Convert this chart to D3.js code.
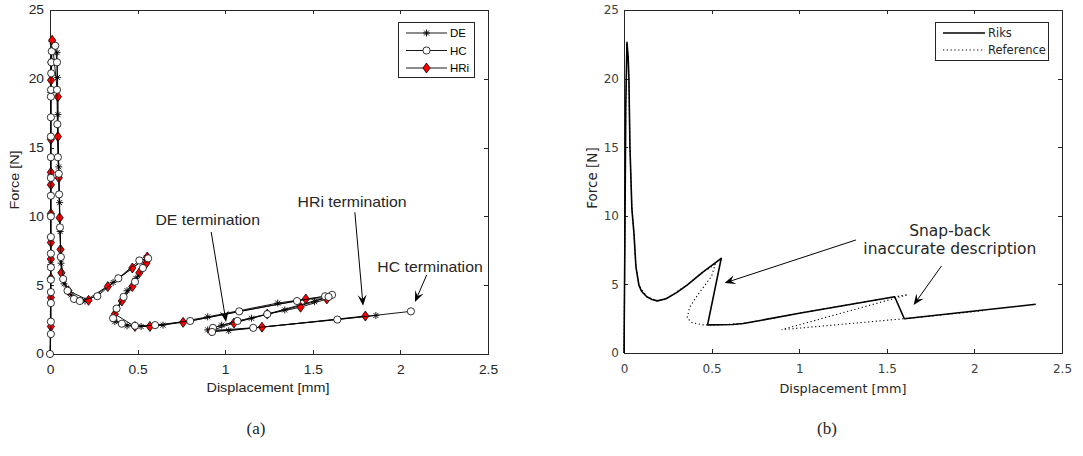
<!DOCTYPE html>
<html>
<head>
<meta charset="utf-8">
<title>Force vs displacement</title>
<script src="https://cdn.jsdelivr.net/npm/d3@7"></script>
<style>
  body { margin: 0; background: #fff; }
</style>
</head>
<body>
<svg id="fig" width="1083" height="456"></svg>
<script>
// points are [displacement mm, force N]
const seriesDE = [[0,0],[0.005,6.5],[0.005,13],[0.005,19],[0.012,22.7],[0.04,21.9],[0.043,20.1],[0.045,17.4],[0.05,13.6],[0.055,11.0],[0.058,8.9],[0.063,6.6],[0.08,5.1],[0.12,4.3],[0.2,3.85],[0.36,5.2],[0.55,7.0],[0.49,5.5],[0.44,4.6],[0.38,3.3],[0.37,2.35],[0.44,2.05],[0.52,2.0],[0.645,2.1],[0.9,2.7],[1.3,3.7],[1.6,4.25],[1.51,3.8],[1.34,3.2],[1.15,2.6],[0.98,2.1],[0.9,1.75],[1.02,1.7],[1.86,2.8]];
const seriesHC = [[0,0],[0.005,1.45],[0.005,2.35],[0.005,3.7],[0.005,4.5],[0.005,5.4],[0.005,6.3],[0.005,7.3],[0.005,8.5],[0.005,10.0],[0.005,11.5],[0.005,12.8],[0.005,14.3],[0.005,15.8],[0.005,17.2],[0.005,18.7],[0.006,19.2],[0.007,20.4],[0.008,21.2],[0.01,22.0],[0.03,22.4],[0.04,21.2],[0.04,19.2],[0.042,16.7],[0.045,14.3],[0.05,13.1],[0.052,11.6],[0.057,9.2],[0.062,7.05],[0.075,5.45],[0.1,4.6],[0.137,4.0],[0.17,3.85],[0.27,4.2],[0.39,5.5],[0.51,6.8],[0.56,6.95],[0.53,6.25],[0.485,5.25],[0.42,4.15],[0.38,3.3],[0.36,2.6],[0.41,2.2],[0.485,2.05],[0.6,2.1],[0.8,2.4],[1.08,3.1],[1.41,3.85],[1.57,4.2],[1.61,4.3],[1.59,4.15],[1.24,2.9],[1.07,2.4],[0.93,1.9],[0.925,1.6],[1.16,1.9],[1.64,2.5],[2.06,3.1]];
const seriesHRi = [[0.005,2.0],[0.005,4.1],[0.005,5.5],[0.005,6.9],[0.005,8.1],[0.005,10.2],[0.005,12.3],[0.005,13.2],[0.005,15.6],[0.006,19.9],[0.007,21.2],[0.012,22.8],[0.045,18.7],[0.045,15.8],[0.05,12.8],[0.055,9.9],[0.06,7.6],[0.065,5.9],[0.105,4.6],[0.22,3.9],[0.33,4.9],[0.47,6.25],[0.555,7.05],[0.55,6.6],[0.51,5.9],[0.47,4.9],[0.41,3.85],[0.37,2.9],[0.485,2.0],[0.57,2.0],[0.76,2.3],[1.46,4.0],[1.58,4.0],[1.43,3.4],[1.24,2.9],[1.05,2.25],[0.92,1.7],[1.21,1.95],[1.8,2.76]];

const riks = [[0,0],[0.005,8],[0.01,18],[0.017,22.65],[0.024,21.5],[0.028,20],[0.034,15],[0.045,10.5],[0.057,8.7],[0.068,6.3],[0.085,4.95],[0.1,4.5],[0.13,4.1],[0.16,3.9],[0.19,3.8],[0.24,3.95],[0.3,4.4],[0.36,4.95],[0.45,5.9],[0.555,6.9],[0.477,2.05],[0.62,2.08],[0.68,2.15],[0.77,2.35],[1.0,2.9],[1.545,4.1],[1.6,2.5],[2.35,3.55]];
const reference = [[0,0],[0.005,8],[0.01,18],[0.017,22.6],[0.024,21.5],[0.028,20],[0.034,15],[0.045,10.5],[0.057,8.7],[0.068,6.3],[0.085,4.95],[0.13,4.1],[0.19,3.8],[0.24,3.95],[0.36,4.95],[0.45,5.9],[0.52,6.45],[0.5,5.6],[0.43,4.4],[0.375,3.35],[0.36,2.55],[0.39,2.2],[0.45,2.05],[0.55,2.05],[0.68,2.15],[0.77,2.35],[1.0,2.9],[1.545,4.1],[1.62,4.25],[0.9,1.7],[1.6,2.5],[2.06,3.1]];

const xTicks = [0, 0.5, 1, 1.5, 2, 2.5];
const yTicks = [0, 5, 10, 15, 20, 25];
const legendA = ["DE", "HC", "HRi"];
const legendB = ["Riks", "Reference"];

const svg = d3.select("#fig");
const axisCol = "#262626";

// left panel (a)
const xa = d3.scaleLinear().domain([0, 2.5]).range([50, 488]);
const ya = d3.scaleLinear().domain([0, 25]).range([354, 10]);
// right panel (b)
const xb = d3.scaleLinear().domain([0, 2.5]).range([624, 1062]);
const yb = d3.scaleLinear().domain([0, 25]).range([353, 10]);

function stretchText(sel, sx) {
  sel.each(function () {
    const t = d3.select(this);
    const x = +t.attr("x") || 0;
    t.attr("x", x / sx).attr("transform", "scale(" + sx + ",1)");
  });
}

function drawAxes(x, y, font, size, color, sx, padY) {
  const g = svg.append("g");
  const fmt = d3.format("~g");
  g.append("g").attr("transform", "translate(0," + y(0) + ")")
    .call(d3.axisBottom(x).tickValues(xTicks).tickFormat(fmt).tickSizeInner(-4).tickSizeOuter(0).tickPadding(11));
  g.append("g").attr("transform", "translate(0," + y(25) + ")")
    .call(d3.axisTop(x).tickValues(xTicks).tickFormat("").tickSizeInner(-4).tickSizeOuter(0));
  g.append("g").attr("transform", "translate(" + x(0) + ",0)")
    .call(d3.axisLeft(y).tickValues(yTicks).tickFormat(fmt).tickSizeInner(-4).tickSizeOuter(0).tickPadding(padY));
  g.append("g").attr("transform", "translate(" + x(2.5) + ",0)")
    .call(d3.axisRight(y).tickValues(yTicks).tickFormat("").tickSizeInner(-4).tickSizeOuter(0));
  g.selectAll(".domain").attr("stroke", axisCol).attr("shape-rendering", "crispEdges");
  g.selectAll(".tick line").attr("stroke", axisCol).attr("shape-rendering", "crispEdges");
  g.selectAll("text").attr("font-family", font).attr("font-size", size).attr("fill", color);
  if (sx !== 1) stretchText(g.selectAll("text"), sx);
  return g;
}

function label(x, y, txt, font, size, sx, rot, anchor) {
  svg.append("text")
    .attr("transform", "translate(" + x + "," + y + ") rotate(" + (rot || 0) + ") scale(" + sx + ",1)")
    .attr("text-anchor", anchor || "middle")
    .attr("dominant-baseline", "central")
    .attr("font-family", font)
    .attr("font-size", size)
    .attr("fill", "#262626")
    .text(txt);
}

function arrow(x1, y1, x2, y2) {
  const ang = Math.atan2(y2 - y1, x2 - x1);
  const L = 11, W = 4.5;
  const g = svg.append("g");
  g.append("line").attr("x1", x1).attr("y1", y1)
    .attr("x2", x2 - Math.cos(ang) * L * 0.6).attr("y2", y2 - Math.sin(ang) * L * 0.6)
    .attr("stroke", "#000").attr("stroke-width", 1);
  g.append("path")
    .attr("d", "M0,0L" + (-L) + "," + W + "L" + (-L * 0.6) + ",0L" + (-L) + "," + (-W) + "Z")
    .attr("transform", "translate(" + x2 + "," + y2 + ") rotate(" + (ang * 180 / Math.PI) + ")")
    .attr("fill", "#000");
}

const starPath = "M-3.5,0H3.5M0,-3.5V3.5M-2.5,-2.5L2.5,2.5M-2.5,2.5L2.5,-2.5";
const diamondPath = "M0,-5L3.6,0L0,5L-3.6,0Z";

function drawMarker(g, kind, cx, cy) {
  if (kind === "DE") {
    g.append("path").attr("d", starPath).attr("transform", "translate(" + cx + "," + cy + ")")
      .attr("stroke", "#000").attr("stroke-width", 0.9).attr("fill", "none");
  } else if (kind === "HC") {
    g.append("circle").attr("cx", cx).attr("cy", cy).attr("r", 3.6)
      .attr("fill", "#fff").attr("stroke", "#000").attr("stroke-width", 0.8);
  } else {
    g.append("path").attr("d", diamondPath).attr("transform", "translate(" + cx + "," + cy + ")")
      .attr("fill", "#ff0000").attr("stroke", "#000").attr("stroke-width", 0.8);
  }
}

// ---- panel (a)
const fontA = "'Liberation Sans', Arial, sans-serif";
drawAxes(xa, ya, fontA, 12, "#262626", 1.15, 6);

const lineA = d3.line().x(d => xa(d[0])).y(d => ya(d[1]));
const plotA = svg.append("g");
[["DE", seriesDE], ["HRi", seriesHRi], ["HC", seriesHC]].forEach(([k, data]) => {
  plotA.append("path").datum(data).attr("d", lineA)
    .attr("fill", "none").attr("stroke", "#000").attr("stroke-width", 0.9);
  const mg = plotA.append("g");
  data.forEach(d => drawMarker(mg, k, xa(d[0]), ya(d[1])));
});

label(268, 388, "Displacement [mm]", fontA, 12.5, 1.15);
label(15, 180, "Force [N]", fontA, 12.5, 1.15, -90);

// annotations (a)
label(xa(0.9), ya(9.74), "DE termination", fontA, 14, 1.13);
label(xa(1.724), ya(11.05), "HRi termination", fontA, 14, 1.13);
label(xa(2.169), ya(6.32), "HC termination", fontA, 14, 1.13);
arrow(xa(0.92), ya(8.87), xa(1.005), ya(2.33));
arrow(xa(1.74), ya(10.3), xa(1.787), ya(3.5));
arrow(xa(2.15), ya(5.74), xa(2.083), ya(3.78));

// legend (a)
const legA = svg.append("g").attr("transform", "translate(" + (xa(2.5) - 90) + "," + (ya(25) + 12) + ")");
legA.append("rect").attr("x", 0.5).attr("y", 0.5).attr("width", 76).attr("height", 55)
  .attr("fill", "#fff").attr("stroke", axisCol).attr("stroke-width", 1);
legendA.forEach((name, i) => {
  const cy = 11 + i * 17.5;
  legA.append("line").attr("x1", 8).attr("x2", 49).attr("y1", cy).attr("y2", cy)
    .attr("stroke", "#000").attr("stroke-width", 0.9);
  drawMarker(legA, name, 28.5, cy);
  legA.append("text").attr("x", 52).attr("y", cy).attr("dominant-baseline", "central")
    .attr("font-family", fontA).attr("font-size", 11.5).attr("fill", "#000").text(name);
});

// ---- panel (b)
const fontB = "'DejaVu Sans', sans-serif";
drawAxes(xb, yb, fontB, 12, "#404040", 1, 5);

const lineB = d3.line().x(d => xb(d[0])).y(d => yb(d[1]));
svg.append("path").datum(reference).attr("d", lineB)
  .attr("fill", "none").attr("stroke", "#000").attr("stroke-width", 1.1)
  .attr("stroke-dasharray", "1.2,2.6");
svg.append("path").datum(riks).attr("d", lineB)
  .attr("fill", "none").attr("stroke", "#000").attr("stroke-width", 1.6)
  .attr("stroke-linejoin", "round");

label(843, 388, "Displacement [mm]", fontB, 12.8, 1);
label(592, 178, "Force [N]", fontB, 13.5, 1, -90);

label(xb(1.86), yb(8.89), "Snap-back", fontB, 15.5, 1);
label(xb(1.86), yb(7.6), "inaccurate description", fontB, 15.5, 1);
arrow(xb(1.324), yb(8.24), xb(0.574), yb(5.1));
arrow(xb(1.812), yb(6.34), xb(1.653), yb(3.5));

// legend (b)
const legB = svg.append("g").attr("transform", "translate(" + (xb(2.5) - 127) + "," + (yb(25) + 12) + ")");
legB.append("rect").attr("x", 0.5).attr("y", 0.5).attr("width", 113).attr("height", 38)
  .attr("fill", "#fff").attr("stroke", axisCol).attr("stroke-width", 1);
legendB.forEach((name, i) => {
  const cy = 11 + i * 17;
  legB.append("line").attr("x1", 8).attr("x2", 50).attr("y1", cy).attr("y2", cy)
    .attr("stroke", "#000").attr("stroke-width", i === 0 ? 1.6 : 1.1)
    .attr("stroke-dasharray", i === 0 ? null : "1.2,2.6");
  legB.append("text").attr("x", 53).attr("y", cy).attr("dominant-baseline", "central")
    .attr("font-family", fontB).attr("font-size", 11.5).attr("fill", "#262626").text(name);
});

// captions
const fontCap = "'Liberation Serif', 'DejaVu Serif', serif";
label(256, 428, "(a)", fontCap, 17, 1);
label(827, 428, "(b)", fontCap, 17, 1);
</script>
</body>
</html>
